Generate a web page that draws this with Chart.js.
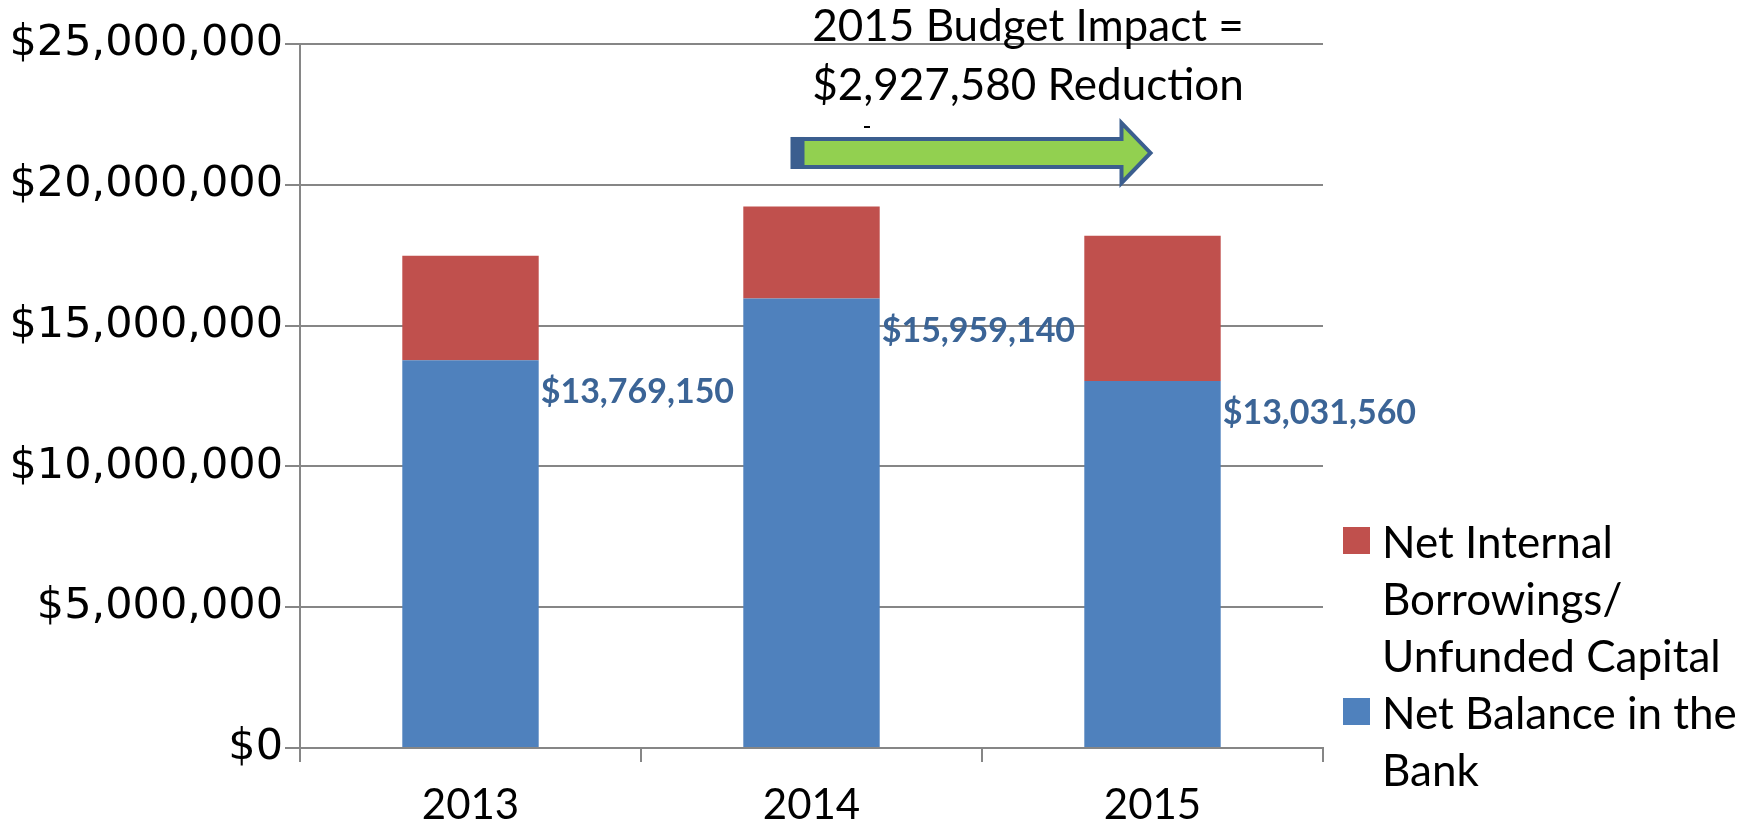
<!DOCTYPE html>
<html>
<head>
<meta charset="utf-8">
<script src="https://cdn.jsdelivr.net/npm/chart.js@4/dist/chart.umd.min.js"></script>
<style>
  html, body { margin: 0; padding: 0; background: #fff; }
  .wrap { position: relative; width: 1758px; height: 829px; }
  .legend { position: absolute; left: 1343px; top: 513px; font-family: Lato, sans-serif; font-size: 44px; color: #000; line-height: 57px; }
  .legend .item { position: relative; padding-left: 39px; }
  .legend .box { position: absolute; left: 0; top: 14px; width: 27px; height: 27px; }
</style>
</head>
<body>
<div class="wrap">
  <canvas id="chart" width="1758" height="829"></canvas>
  <div class="legend">
    <div class="item"><span class="box" style="background:#C0504D"></span>Net Internal<br>Borrowings/<br>Unfunded Capital</div>
    <div class="item"><span class="box" style="background:#4F81BD"></span>Net Balance in the<br>Bank</div>
  </div>
</div>
<script>
const years = ['2013', '2014', '2015'];
const bankBalance = [13769150, 15959140, 13031560];
const borrowings = [3710000, 3270000, 5160000];
const seriesNames = ['Net Balance in the Bank', 'Net Internal Borrowings/ Unfunded Capital'];
const impactText = ['2015 Budget Impact =', '$2,927,580 Reduction'];

const money = v => '$' + Number(v).toLocaleString('en-US');

// value labels to the right of the blue bars
const barLabels = {
  id: 'barLabels',
  afterDatasetsDraw(chart) {
    const ctx = chart.ctx;
    const meta = chart.getDatasetMeta(0);
    ctx.save();
    ctx.font = 'bold 34px Lato, sans-serif';
    ctx.fillStyle = '#3B6496';
    ctx.textAlign = 'left';
    ctx.textBaseline = 'middle';
    meta.data.forEach((bar, i) => {
      ctx.fillText(money(bankBalance[i]), bar.x + bar.width / 2 + 2, bar.y + 32);
    });
    ctx.restore();
  }
};

// the "budget impact" arrow and text
const impactNote = {
  id: 'impactNote',
  afterDraw(chart) {
    const ctx = chart.ctx;
    const x = chart.scales.x;
    const y = chart.scales.y;
    const x0 = x.getPixelForValue(1) - 19;
    const x1 = x.getPixelForValue(2) - 2;
    const cy = y.getPixelForValue(21130000);
    ctx.save();
    ctx.font = '44px Lato, sans-serif';
    ctx.fillStyle = '#000';
    ctx.textAlign = 'center';
    ctx.textBaseline = 'middle';
    ctx.fillText(impactText[0], 1028, 27);
    ctx.fillText(impactText[1], 1028, 86);
    ctx.fillRect(864, 126, 6, 2);

    const headBase = x1 - 29;
    ctx.beginPath();
    ctx.moveTo(x0, cy - 14);
    ctx.lineTo(headBase, cy - 14);
    ctx.lineTo(headBase, cy - 30);
    ctx.lineTo(x1, cy);
    ctx.lineTo(headBase, cy + 30);
    ctx.lineTo(headBase, cy + 14);
    ctx.lineTo(x0, cy + 14);
    ctx.closePath();
    ctx.fillStyle = '#92D050';
    ctx.fill();
    ctx.lineWidth = 4;
    ctx.strokeStyle = '#3B5E8F';
    ctx.lineJoin = 'miter';
    ctx.stroke();
    ctx.fillStyle = '#3B5E8F';
    ctx.fillRect(x0 - 1, cy - 16, 13, 32);
    ctx.restore();
  }
};

new Chart(document.getElementById('chart').getContext('2d'), {
  type: 'bar',
  data: {
    labels: years,
    datasets: [
      { label: seriesNames[0], data: bankBalance, backgroundColor: '#4F81BD' },
      { label: seriesNames[1], data: borrowings, backgroundColor: '#C0504D' }
    ]
  },
  options: {
    responsive: false,
    animation: false,
    layout: { padding: { left: 0, right: 435, top: 44, bottom: 0 } },
    datasets: { bar: { categoryPercentage: 1, barPercentage: 0.4 } },
    plugins: { legend: { display: false }, tooltip: { enabled: false } },
    scales: {
      x: {
        stacked: true,
        grid: { drawOnChartArea: false, drawTicks: true, tickLength: 14, color: '#868686', lineWidth: 2 },
        border: { color: '#868686', width: 2 },
        ticks: { color: '#000', font: { family: 'Lato, sans-serif', size: 42 }, padding: 18 },
        afterFit: s => { s.height = 81; }
      },
      y: {
        stacked: true,
        min: 0,
        max: 25000000,
        grid: { color: '#868686', lineWidth: 2, tickLength: 15 },
        border: { color: '#868686', width: 2 },
        ticks: {
          stepSize: 5000000,
          color: '#000',
          font: { family: 'DejaVu Sans', size: 43 },
          padding: 2,
          callback: v => money(v)
        },
        afterFit: s => { s.width = 300; }
      }
    }
  },
  plugins: [barLabels, impactNote]
});
</script>
</body>
</html>
